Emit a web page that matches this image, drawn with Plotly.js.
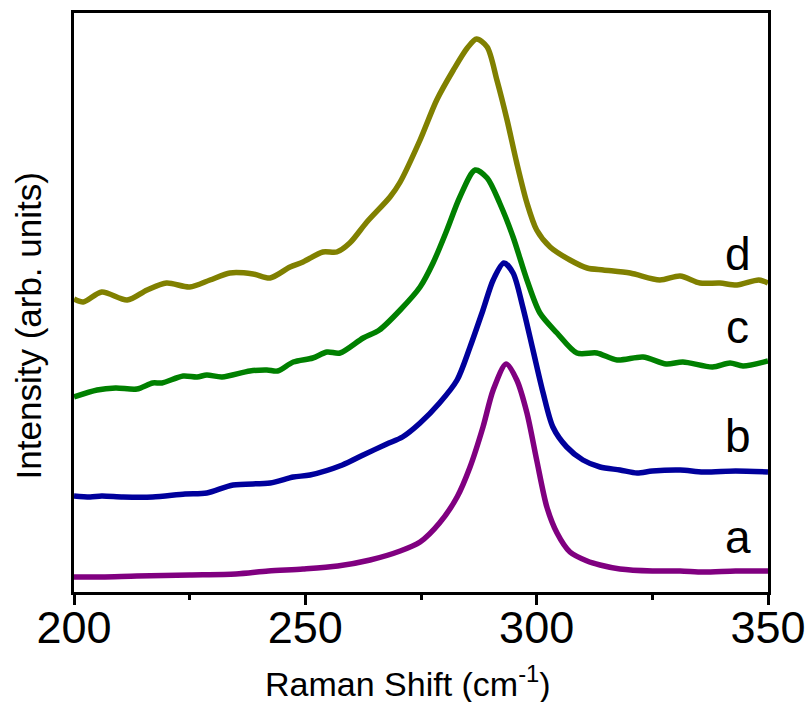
<!DOCTYPE html>
<html>
<head>
<meta charset="utf-8">
<script src="https://cdn.plot.ly/plotly-3.0.1.min.js"></script>
<style>html,body{margin:0;padding:0;background:#fff;}#chart{width:806px;height:702px;}</style>
</head>
<body>
<div id="chart"></div>
<script>
// Raman spectra (arb. units, stacked)
const xA = [200,206,213.6,225,235,242,249.5,257,264,270.5,274.8,279,282.8,285.6,288.4,290.6,293.4,295.7,297.9,300,302.2,304.4,307.2,310.9,313.7,318,325,331,336,343,350];
const yA = [15,15,16,17,18,21,23,26,32,41,50,69,95,125,165,202,228,212,179,132,85,59,40,31,27,23,21,21,20,21,21];

const xB = [200,203.5,206,210.6,217,224,228.7,234.4,242.4,247.4,251,258,262.5,267.6,271,274.8,279,282.8,285.6,288.4,290.6,292.9,294.9,297,299.2,301.4,303.5,306.5,310,313.7,318,321.7,325,331,336,343,350];
const yB = [96,95,96,95,95,98,99,107,109,115,117,127,137,148,155,169,189,212,245,282,312,329,319,285,242,199,165,145,132,125,122,119,121,122,120,121,120];

const xC = [200,205,209,213.6,217,219,223.6,226.6,228.7,232,238,241.7,244,247.4,251.6,254.7,257.5,262.5,266,270.5,274.8,277.6,280.6,283.4,286.7,289.3,292,294.9,297.9,300.7,304.4,308.7,313,317.4,323,328,331.6,338,341.8,344.6,350];
const yC = [195,202,204,203,209,209,216,215,217,215,221,222,221,230,234,240,239,254,262,282,305,329,362,395,422,414,389,355,312,279,259,239,239,232,235,228,230,225,229,226,231];

const xD = [200,202,206,211.5,215.8,220,225,229.4,233.7,238.7,242.4,246.7,249.5,253.8,256.8,259.6,263.3,268.3,270.5,274.8,278.4,282,285,287,289.3,291.4,293.6,295.7,297.9,300,302.9,307.2,310.9,314.4,320.2,326.6,331,335.3,339.6,343.3,348,350];
const yD = [293,290,300,292,302,309,305,312,319,318,314,325,330,340,340,349,370,395,410,452,492,522,544,553,545,512,472,429,389,362,345,332,324,322,319,312,316,309,309,307,312,309];

const labels = ['a','b','c','d'];
const labelY = [55,156,265,338];
const labelX = 343.5;
const xTicks = [200,250,300,350];

const colors = ['#800080','#00009c','#008000','#808000'];
const series = [[xA,yA],[xB,yB],[xC,yC],[xD,yD]];
const FONT = 'Liberation Sans, Arial, sans-serif';

const traces = series.map((s,i)=>({
  x: s[0], y: s[1], type:'scatter', mode:'lines',
  line:{color:colors[i], width:5.5, shape:'spline', smoothing:0.8},
  hoverinfo:'skip', showlegend:false
}));

const annotations = labels.map((t,i)=>({
  x: labelX, y: labelY[i], xref:'x', yref:'y', text:t, showarrow:false,
  xanchor:'center', yanchor:'middle',
  font:{family:FONT, size:46, color:'#000'}
}));
annotations.push({
  text:'Intensity (arb. units)', xref:'paper', yref:'paper',
  x:-0.066, y:0.459, xanchor:'center', yanchor:'middle', textangle:-90,
  showarrow:false, font:{family:FONT, size:35, color:'#000'}
});
annotations.push({
  text:'Raman Shift (cm<sup>-1</sup>)', xref:'paper', yref:'paper',
  x:0.481, y:-0.155, xanchor:'center', yanchor:'middle',
  showarrow:false, font:{family:FONT, size:34, color:'#000'}
});

const layout = {
  width:806, height:702,
  margin:{l:74, r:38, t:13, b:110},
  paper_bgcolor:'#fff', plot_bgcolor:'#fff',
  font:{family:FONT, color:'#000'},
  xaxis:{
    range:[200,350], tickvals:xTicks, ticktext:xTicks.map(String),
    ticks:'outside', ticklen:10, tickwidth:3, tickcolor:'#000',
    minor:{dtick:25, tick0:200, ticks:'outside', ticklen:5, tickwidth:3, tickcolor:'#000', showgrid:false},
    showline:true, linewidth:3, linecolor:'#000', mirror:true,
    showgrid:false, zeroline:false, ticklabelstandoff:-16,
    tickfont:{size:45, family:FONT}
  },
  yaxis:{
    range:[0,579], showticklabels:false, ticks:'',
    showline:true, linewidth:3, linecolor:'#000', mirror:true,
    showgrid:false, zeroline:false
  },
  annotations: annotations
};

Plotly.newPlot('chart', traces, layout, {displayModeBar:false, staticPlot:true});
</script>
</body>
</html>
